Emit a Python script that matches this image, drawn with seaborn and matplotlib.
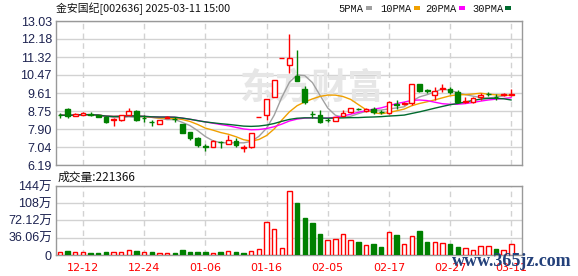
import numpy as np
import pandas as pd
import matplotlib
matplotlib.use("Agg")
import matplotlib.pyplot as plt
from matplotlib.patches import Rectangle
import seaborn as sns

# ---------------- data ----------------
dates = ["12-09", "12-10", "12-11", "12-12", "12-13", "12-16", "12-17", "12-18", "12-19", "12-20",
         "12-23", "12-24", "12-25", "12-26", "12-27", "12-30", "12-31", "01-02", "01-03", "01-06",
         "01-07", "01-08", "01-09", "01-10", "01-13", "01-14", "01-15", "01-16", "01-17", "01-20",
         "01-21", "01-22", "01-23", "01-24", "01-27", "02-05", "02-06", "02-07", "02-10", "02-11",
         "02-12", "02-13", "02-14", "02-17", "02-18", "02-19", "02-20", "02-21", "02-24", "02-25",
         "02-26", "02-27", "02-28", "03-03", "03-04", "03-05", "03-06", "03-07", "03-10", "03-11"]
opens = [8.58, 8.85, 8.52, 8.58, 8.62, 8.55, 8.48, 8.33, 8.34, 8.58,
         8.75, 8.43, 8.25, 8.12, 8.42, 8.38, 8.12, 7.75, 7.48, 7.07,
         7.05, 7.30, 7.20, 7.35, 7.00, 7.05, 8.47, 8.55, 9.40, 11.28,
         10.96, 10.42, 9.78, 8.62, 8.58, 8.35, 8.30, 8.52, 8.70, 8.85,
         8.74, 8.87, 8.72, 8.65, 9.08, 9.07, 9.12, 10.05, 9.73, 9.50,
         9.78, 9.80, 9.64, 9.18, 9.16, 9.40, 9.57, 9.44, 9.50, 9.50]
highs = [8.68, 8.90, 8.65, 8.72, 8.70, 8.58, 8.50, 8.40, 8.58, 8.88,
         8.80, 8.57, 8.32, 8.33, 8.50, 8.45, 8.15, 7.76, 7.50, 7.17,
         7.36, 7.32, 7.60, 7.48, 7.15, 7.70, 8.47, 9.32, 10.25, 11.28,
         12.41, 11.67, 9.93, 8.75, 8.80, 8.42, 8.48, 8.80, 8.90, 8.90,
         8.90, 8.95, 8.80, 9.24, 9.28, 9.18, 10.05, 10.05, 9.82, 9.90,
         10.06, 9.88, 9.74, 9.40, 9.42, 9.60, 9.64, 9.55, 9.62, 9.81]
lows = [8.43, 8.41, 8.50, 8.56, 8.50, 8.45, 8.20, 8.05, 8.30, 8.55,
        8.30, 8.22, 8.02, 8.12, 8.40, 8.22, 7.72, 7.37, 7.05, 6.84,
        7.05, 7.00, 7.18, 7.05, 6.80, 7.00, 8.47, 8.35, 9.40, 11.28,
        10.54, 10.17, 9.10, 8.41, 8.20, 8.25, 8.28, 8.50, 8.68, 8.78,
        8.72, 8.62, 8.62, 8.63, 8.86, 9.05, 9.05, 9.65, 9.62, 9.30,
        9.67, 9.55, 9.15, 9.12, 9.12, 9.30, 9.45, 9.30, 9.45, 9.48]
closes = [8.56, 8.53, 8.60, 8.65, 8.55, 8.48, 8.22, 8.37, 8.56, 8.77,
          8.33, 8.40, 8.21, 8.33, 8.45, 8.36, 7.72, 7.45, 7.13, 7.05,
          7.35, 7.28, 7.40, 7.15, 7.03, 7.70, 8.47, 9.32, 10.25, 11.28,
          11.29, 10.18, 9.18, 8.60, 8.22, 8.32, 8.45, 8.66, 8.88, 8.83,
          8.87, 8.72, 8.70, 9.16, 9.05, 9.15, 10.05, 9.71, 9.70, 9.72,
          9.85, 9.68, 9.20, 9.21, 9.36, 9.53, 9.55, 9.42, 9.54, 9.56]
prior_close = 8.50
volumes_wan = [6.3, 8.3, 5.6, 5.6, 4.2, 4.2, 6.3, 6.3, 6.3, 9.7,
               8.3, 6.3, 6.3, 4.2, 4.2, 4.2, 10.4, 6.3, 6.3, 6.3,
               4.2, 6.3, 8.3, 6.3, 4.2, 8.3, 12.5, 68.0, 53.5, 14.0,
               133.0, 109.0, 78.0, 67.0, 44.5, 32.0, 33.0, 44.0, 31.0, 28.0,
               21.0, 23.6, 16.7, 48.0, 41.7, 23.6, 39.0, 50.0, 28.0, 27.0,
               25.0, 23.0, 16.7, 14.0, 10.4, 18.0, 18.0, 12.5, 9.7, 22.1]

price_ticks = [6.19, 7.04, 7.90, 8.75, 9.61, 10.47, 11.32, 12.18, 13.03]
price_tick_labels = ["6.19", "7.04", "7.90", "8.75", "9.61", "10.47", "11.32", "12.18", "13.03"]
vol_ticks = [0, 36.06, 72.12, 108, 144]
vol_tick_labels = ["0", "36.06万", "72.12万", "108万", "144万"]
date_tick_labels = ["12-12", "12-24", "01-06", "01-16", "02-05", "02-17", "02-27", "03-11"]
ma_windows = [5, 10, 20, 30]
ma_names = ["5PMA", "10PMA", "20PMA", "30PMA"]
ma_colors = ["#a0a0a0", "#f0a000", "#ff00ff", "#006a2e"]
title_text = "金安国纪[002636] 2025-03-11 15:00"
volume_text = "成交量:221366"

# ---------------- styling ----------------
sns.set_theme(style="white")
plt.rcParams["font.family"] = ["Liberation Sans", "Noto Sans CJK SC"]

RED = "#ff0000"
GREEN = "#008000"
LABEL_C = "#1c2250"
GRID_C = "#d2d2d2"
SPINE_C = "#999999"

df = pd.DataFrame({"date": dates, "open": opens, "high": highs, "low": lows,
                   "close": closes, "vol": volumes_wan})
df["i"] = np.arange(len(df))
for w, n in zip(ma_windows, ma_names):
    df[n] = df["close"].rolling(w, min_periods=1).mean()
prev = df["close"].shift(1).fillna(prior_close)
df["vol_up"] = df["close"] >= prev
df["up"] = df["close"] >= df["open"]

W, H = 578, 276
fig = plt.figure(figsize=(W / 100, H / 100), dpi=100)
ax = fig.add_axes([56 / W, 1 - 165 / H, 466 / W, 144 / H])
axv = fig.add_axes([56 / W, 1 - 255 / H, 466 / W, 69 / H])

xlim = (-0.52, 60.4)
tick_pos = [dates.index(d) for d in date_tick_labels]

for a in (ax, axv):
    a.set_xlim(*xlim)
    for s in a.spines.values():
        s.set_color(SPINE_C)
        s.set_linewidth(1)
    a.set_facecolor("white")
    for t in tick_pos:
        a.axvline(t, color=GRID_C, lw=1, ls=(0, (4, 3)), zorder=0)
    a.tick_params(length=0)

# price grid
ax.set_ylim(price_ticks[0], price_ticks[-1])
ax.set_yticks(price_ticks)
ax.set_yticklabels(price_tick_labels, fontsize=9, color=LABEL_C)
for y in price_ticks:
    ax.axhline(y, color=GRID_C, lw=1, zorder=0)
ax.set_xticks([])
ax.tick_params(axis="y", pad=3)

# watermark
ax.text(33, 9.84, "东方财富", fontsize=26, color="#e6e6e6", ha="center", va="center",
        family=["Noto Sans CJK SC"], fontweight="bold", zorder=0.5, style="italic")

# MA lines
for n, c in zip(ma_names, ma_colors):
    sns.lineplot(data=df, x="i", y=n, ax=ax, color=c, lw=1, zorder=2)
ax.set_xlabel("")
ax.set_ylabel("")
ax.set_xlim(*xlim)

# candles
bw = 0.62
for r in df.itertuples():
    lo_b, hi_b = min(r.open, r.close), max(r.open, r.close)
    if r.up:
        ax.vlines(r.i, r.low, lo_b, color=RED, lw=1, zorder=3)
        ax.vlines(r.i, hi_b, r.high, color=RED, lw=1, zorder=3)
        ax.bar(r.i, hi_b - lo_b, bottom=lo_b, width=bw, facecolor="white",
               edgecolor=RED, lw=1, zorder=4)
    else:
        ax.vlines(r.i, r.low, r.high, color=GREEN, lw=1, zorder=3)
        ax.bar(r.i, hi_b - lo_b, bottom=lo_b, width=bw, facecolor=GREEN,
               edgecolor=GREEN, lw=1, zorder=4)

# volume
axv.set_ylim(0, vol_ticks[-1])
axv.set_yticks(vol_ticks)
axv.set_yticklabels(vol_tick_labels, fontsize=9, color=LABEL_C)
for y in vol_ticks:
    axv.axhline(y, color=GRID_C, lw=1, zorder=0)
for r in df.itertuples():
    if r.vol_up:
        axv.bar(r.i, r.vol, width=0.58, facecolor="white", edgecolor=RED, lw=1, zorder=3)
    else:
        axv.bar(r.i, r.vol, width=0.58, facecolor=GREEN, edgecolor=GREEN, lw=1, zorder=3)
axv.set_xticks(tick_pos)
axv.set_xticklabels(date_tick_labels, fontsize=8, color=RED, family=["DejaVu Sans"])
axv.tick_params(axis="x", pad=6)
axv.tick_params(axis="y", pad=3)

# texts
fig.text(56 / W, 1 - 9 / H, title_text, fontsize=7.8, color="#111111", va="center", ha="left",
         family=["Noto Sans CJK SC", "DejaVu Sans"])
fig.text(58 / W, 1 - 177 / H, volume_text, fontsize=8.5, color="#111111", va="center", ha="left",
         family=["Noto Sans CJK SC", "DejaVu Sans"])

leg_x = [338, 380, 425, 472]
sq_x = [366, 414, 459, 505]
for n, c, lx, sx in zip(ma_names, ma_colors, leg_x, sq_x):
    fig.text(lx / W, 1 - 8.5 / H, n, fontsize=7.5, color="#111111", va="center", ha="left",
             family=["Liberation Mono"])
    fig.add_artist(Rectangle((sx / W, 1 - 10 / H), 6 / W, 4 / H, transform=fig.transFigure,
                             facecolor=c, edgecolor="none"))

fig.text(512 / W, 1 - 262 / H, "www.365jz.com", fontsize=13, color="#23407a", ha="center",
         va="center", family=["Liberation Serif"], fontweight="bold")

fig.savefig("out.png", dpi=100)
